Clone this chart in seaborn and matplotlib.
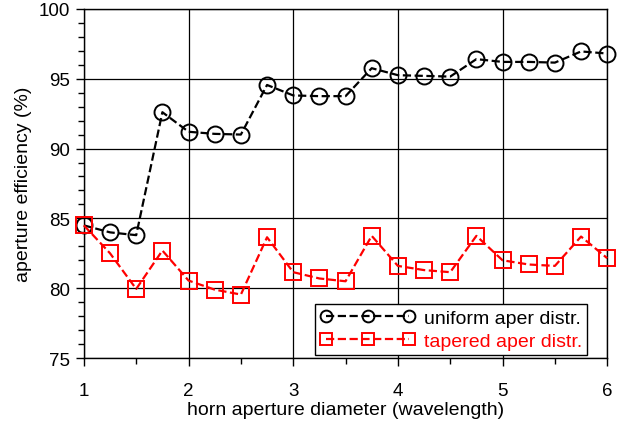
import matplotlib
matplotlib.use("Agg")
import matplotlib.pyplot as plt
from matplotlib.ticker import MultipleLocator
import seaborn as sns
import pandas as pd

diameter = [1.0, 1.25, 1.5, 1.75, 2.0, 2.25, 2.5, 2.75, 3.0, 3.25, 3.5,
            3.75, 4.0, 4.25, 4.5, 4.75, 5.0, 5.25, 5.5, 5.75, 6.0]
uniform_eff = [84.5, 84.0, 83.8, 92.6, 91.2, 91.05, 91.0, 94.55, 93.8, 93.75, 93.75,
               95.75, 95.25, 95.2, 95.15, 96.4, 96.2, 96.2, 96.15, 96.95, 96.8]
tapered_eff = [84.5, 82.5, 79.95, 82.7, 80.55, 79.9, 79.55, 83.65, 81.15, 80.7, 80.5,
               83.75, 81.6, 81.3, 81.15, 83.75, 82.0, 81.7, 81.6, 83.7, 82.15]
series_labels = ["uniform aper distr.", "tapered aper distr."]

df = pd.DataFrame({"d": diameter, "uniform": uniform_eff, "tapered": tapered_eff})

sns.set_theme(style="ticks")
plt.rcParams["font.family"] = ["Liberation Sans", "DejaVu Sans"]

fig = plt.figure(figsize=(6.26, 4.27), dpi=100)
ax = fig.add_axes([0.134, 0.159, 0.836, 0.818])

common = dict(linestyle="--", dashes=(4, 2.5), linewidth=1.6,
              markerfacecolor="none", markeredgewidth=1.4, zorder=4, clip_on=False)
sns.lineplot(data=df, x="d", y="uniform", ax=ax, color="black", marker="o",
             markersize=11.5, markeredgecolor="black", label=series_labels[0], **common)
sns.lineplot(data=df, x="d", y="tapered", ax=ax, color="red", marker="s",
             markersize=12, markeredgecolor="red", label=series_labels[1], **common)

ax.set_xlim(1, 6)
ax.set_ylim(75, 100)
ax.xaxis.set_major_locator(MultipleLocator(1))
ax.xaxis.set_minor_locator(MultipleLocator(0.5))
ax.yaxis.set_major_locator(MultipleLocator(5))
ax.yaxis.set_minor_locator(MultipleLocator(1))
ax.grid(True, which="major", color="black", linewidth=0.9)
ax.tick_params(which="major", direction="out", length=6, width=1, labelsize=13.5,
               color="black", labelcolor="black")
ax.tick_params(which="minor", direction="out", length=4, width=1, color="black")
ax.tick_params(axis="x", which="major", pad=11)
ax.tick_params(axis="y", which="major", pad=4)
for s in ax.spines.values():
    s.set_color("black")
    s.set_linewidth(1)

ax.set_xlabel("horn aperture diameter (wavelength)", fontsize=14, color="black", labelpad=2)
ax.set_ylabel("aperture efficiency (%)", fontsize=14, color="black", labelpad=5)

leg = ax.legend(loc="lower right", bbox_to_anchor=(587 / 626, 71 / 427),
                bbox_transform=fig.transFigure, numpoints=3,
                handlelength=4.9, fontsize=14, frameon=True, fancybox=False,
                edgecolor="black", framealpha=1, borderpad=0.25, labelspacing=0.3,
                handletextpad=0.45, borderaxespad=0)
leg.get_frame().set_linewidth(1)
for h in leg.legend_handles:
    h.set_markersize(8.5)
    h.set_clip_on(True)
for txt, c in zip(leg.get_texts(), ["black", "red"]):
    txt.set_color(c)

fig.savefig("out.png", dpi=100, facecolor="white")
